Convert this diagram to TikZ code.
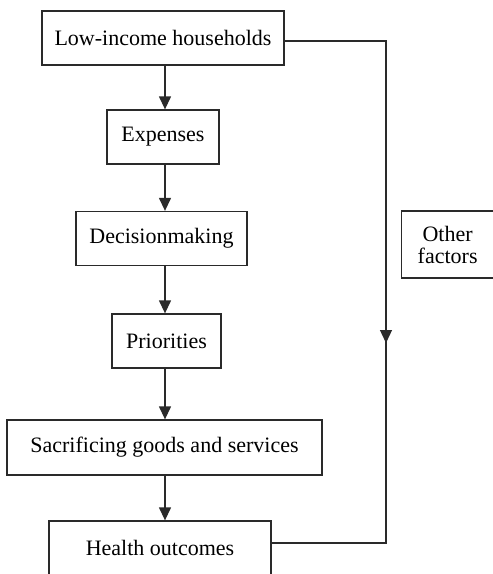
\documentclass[tikz,border=0pt]{standalone}
\usepackage{fontspec}
\setmainfont{Liberation Serif}
\usetikzlibrary{positioning,arrows.meta}
\definecolor{cLine}{HTML}{2A2A2A}
\tikzset{
  stage/.style={draw=cLine, line width=1.3pt, fill=white, inner sep=0pt,
                minimum height=54pt, align=center,
                font=\fontsize{22}{22}\selectfont},
  flow/.style={-{Triangle[length=13pt,width=12pt]}, line width=1.3pt, draw=cLine},
  rail/.style={line width=1.3pt, draw=cLine},
}
\begin{document}
\begin{tikzpicture}[x=1pt, y=-1pt]

% ========== FRAME ==========
\useasboundingbox (0,0) rectangle (493,574);
\clip (0,0) rectangle (493,574);
\fill[white] (0,0) rectangle (493,574);

% ========== CHAIN ==========
\node[stage, minimum width=242pt] (low) at (163,38)    {Low-income households};
\node[stage, minimum width=112pt] (exp) at (163,137)   {Expenses};
\node[stage, minimum width=171pt] (dec) at (161.5,238.5) {Decisionmaking};
\node[stage, minimum width=109pt] (pri) at (166.5,341) {Priorities};
\node[stage, minimum width=315pt, minimum height=55pt]
      (sac) at (164.5,447.5) {Sacrificing goods and services};
\node[stage, minimum width=222pt] (hea) at (160,548)   {Health outcomes};

% box runs past the right edge of the page
\node[stage, minimum height=67pt, anchor=west] (oth) at (401,244.5)
  {\parbox{92pt}{\centering Other\\factors}\hspace*{24pt}};

\coordinate (spine) at (165,0);
\draw[flow] (low.south -| spine) -- (exp.north -| spine);
\draw[flow] (exp.south -| spine) -- (dec.north -| spine);
\draw[flow] (dec.south -| spine) -- (pri.north -| spine);
\draw[flow] (pri.south -| spine) -- (sac.north -| spine);
\draw[flow] (sac.south -| spine) -- (hea.north -| spine);

% ========== SIDE PATH ==========
\coordinate (railTop) at (386,41);
\coordinate (railMid) at (386,343);
\coordinate (railBot) at (386,543);
\draw[rail] (low.east |- railTop) -- (railTop) -- (railBot) -- (hea.east |- railBot);
\draw[flow] (railTop) -- (railMid);

\end{tikzpicture}
\end{document}
